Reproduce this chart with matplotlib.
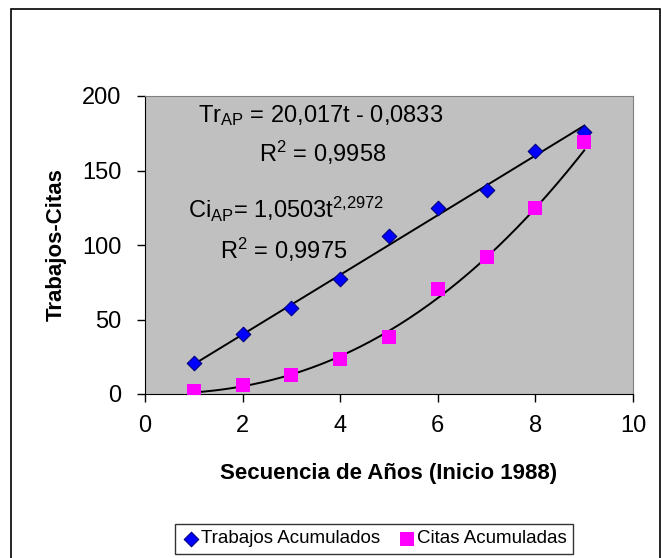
import matplotlib.pyplot as plt
import numpy as np
from matplotlib.patches import Rectangle

plt.rcParams['font.family'] = ['Liberation Sans', 'DejaVu Sans']
plt.rcParams['mathtext.default'] = 'regular'

# Acumulados por año (inicio 1988)
anios = [1, 2, 3, 4, 5, 6, 7, 8, 9]
trabajos = [21, 40, 58, 77, 106, 125, 137, 163, 176]
citas = [2, 6, 13, 23.5, 38.5, 70.5, 92, 125, 169]

# Coeficientes de los ajustes
lin_a, lin_b = 20.017, -0.0833
pot_a, pot_b = 1.0503, 2.2972

fig = plt.figure(figsize=(6.61, 5.58), dpi=100)
fig.patches.append(Rectangle((11 / 661, -0.01), 649 / 661, 1 - 9 / 558 + 0.01,
                             transform=fig.transFigure, fill=False,
                             edgecolor='black', linewidth=1.2))

ax = fig.add_axes([145 / 661, 1 - 394 / 558, 488 / 661, 298 / 558])
ax.set_facecolor('#c0c0c0')
for side in ['top', 'right']:
    ax.spines[side].set_color('#808080')
for side in ['left', 'bottom']:
    ax.spines[side].set_color('black')

t = np.linspace(1, 9, 200)
ax.plot(t, lin_a * t + lin_b, color='black', lw=1.4, zorder=2)
ax.plot(t, pot_a * t ** pot_b, color='black', lw=1.4, zorder=2)

ax.scatter(anios, trabajos, marker='D', s=55, color='#0000ff',
           edgecolor='#000080', linewidth=0.8, zorder=3, label='Trabajos Acumulados')
ax.scatter(anios, citas, marker='s', s=95, color='#ff00ff',
           linewidth=0, zorder=3, label='Citas Acumuladas')

ax.set_xlim(0, 10)
ax.set_ylim(0, 200)
ax.set_xticks(range(0, 11, 2))
ax.set_yticks(range(0, 201, 50))
ax.tick_params(direction='out', length=6, width=1, labelsize=17)
ax.tick_params(axis='x', pad=9)
ax.tick_params(axis='y', pad=11)

ax.set_xlabel('Secuencia de Años (Inicio 1988)', fontsize=16, fontweight='bold', labelpad=19)
ax.set_ylabel('Trabajos-Citas', fontsize=16, fontweight='bold', labelpad=11)

eq = dict(fontsize=17, ha='left', va='center')
ax.text(1.08, 187, 'Tr$_{AP}$ = 20,017t - 0,0833', **eq)
ax.text(2.34, 162, 'R$^{2}$ = 0,9958', **eq)
ax.text(0.88, 124, 'Ci$_{AP}$= 1,0503t$^{2{,}2972}$', **eq)
ax.text(1.54, 97, 'R$^{2}$ = 0,9975', **eq)

leg = fig.legend(loc='lower left', bbox_to_anchor=(175 / 661, 4 / 558), ncol=2,
                 fontsize=13.5, frameon=True, fancybox=False, edgecolor='black',
                 handletextpad=0.05, columnspacing=0.9, handlelength=1.0,
                 borderaxespad=0, borderpad=0.35)
leg.get_frame().set_linewidth(1)

fig.savefig('out.png', dpi=100)
